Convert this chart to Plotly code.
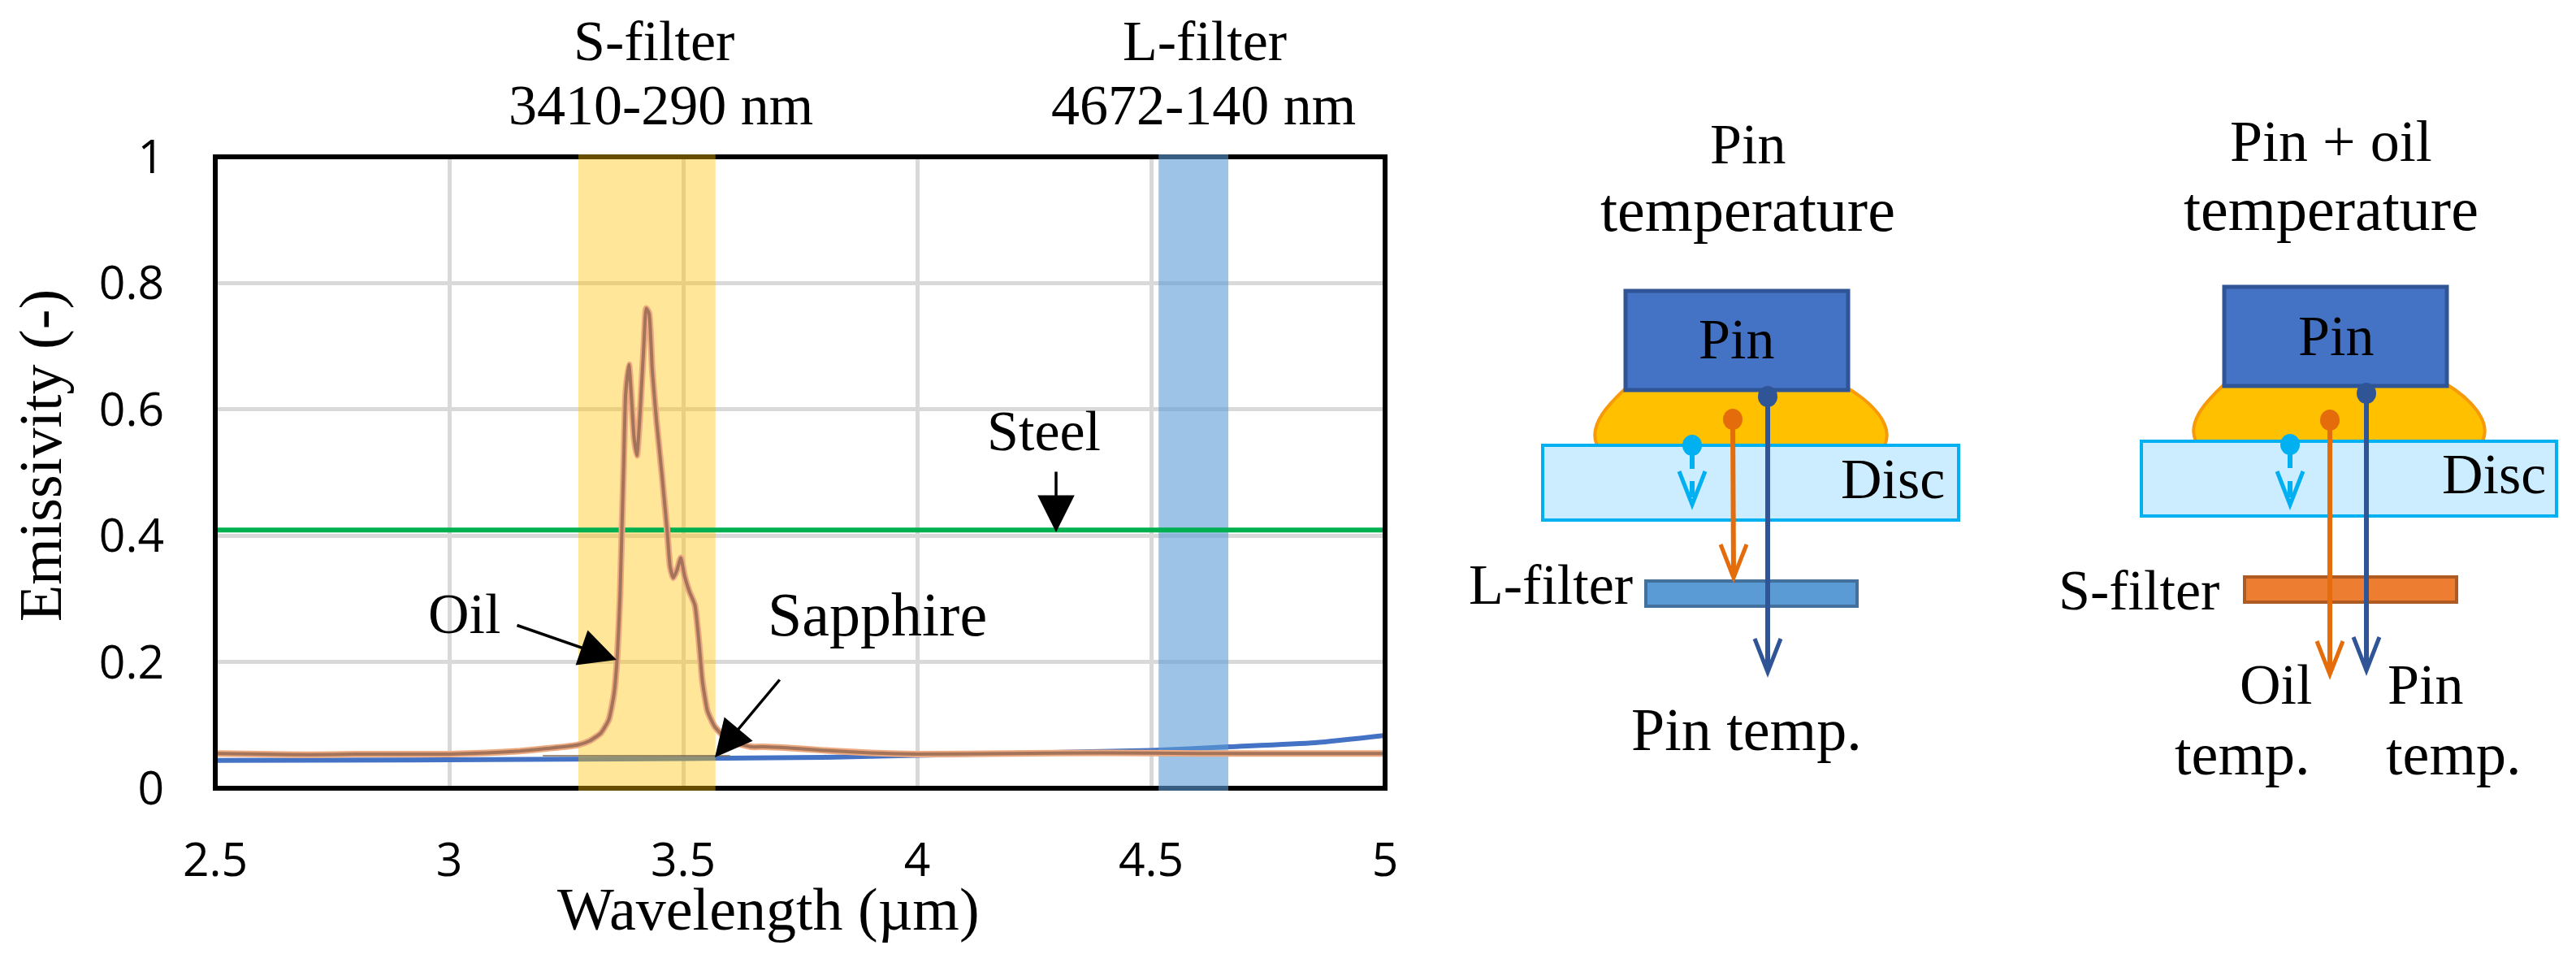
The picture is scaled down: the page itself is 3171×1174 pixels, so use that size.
import plotly.graph_objects as go

W, H = 3171, 1174
SERIF = "Liberation Serif"
SANS = "Open Sans"
TSIZE = 70

# ---- data ----
oil_x = [2.5, 2.6, 2.7, 2.8, 2.9, 3.0, 3.08, 3.151, 3.209, 3.274, 3.30, 3.324, 3.341, 3.352, 3.359, 3.365,
         3.369, 3.373, 3.377, 3.384, 3.389, 3.395, 3.401, 3.408, 3.416, 3.421, 3.427, 3.434, 3.443, 3.454,
         3.466, 3.472, 3.479, 3.487, 3.495, 3.503, 3.513, 3.525, 3.534, 3.541, 3.552, 3.567, 3.587, 3.616,
         3.645, 3.674, 3.72, 3.8, 3.9, 4.0, 4.2, 4.4, 4.6, 4.8, 5.0]
oil_y = [0.055, 0.054, 0.053, 0.054, 0.054, 0.054, 0.056, 0.059, 0.063, 0.0685, 0.075, 0.0873, 0.1086, 0.1486,
         0.207, 0.304, 0.41, 0.517, 0.624, 0.671, 0.624, 0.555, 0.527, 0.597, 0.704, 0.76, 0.752, 0.661, 0.581,
         0.501, 0.405, 0.351, 0.333, 0.346, 0.365, 0.336, 0.312, 0.29, 0.229, 0.17, 0.122, 0.098, 0.082, 0.071,
         0.0656, 0.0656, 0.064, 0.06, 0.056, 0.054, 0.055, 0.056, 0.055, 0.055, 0.055]
sapphire_x = [2.5, 3.0, 3.5, 3.8, 4.0, 4.25, 4.5, 4.665, 4.85, 5.005]
sapphire_y = [0.044, 0.045, 0.047, 0.049, 0.052, 0.056, 0.060, 0.0655, 0.072, 0.084]
steel_x = [2.49, 5.0]
steel_y = [0.409, 0.409]
thin_x = [3.2, 3.6]
thin_y = [0.0515, 0.0515]
s_band = [3.276, 3.569]
l_band = [4.516, 4.665]
x_ticks = [2.5, 3, 3.5, 4, 4.5, 5]
x_labels = ["2.5", "3", "3.5", "4", "4.5", "5"]
y_ticks = [0, 0.2, 0.4, 0.6, 0.8, 1]
y_labels = ["0", "0.2", "0.4", "0.6", "0.8", "1"]

L, R, T, B = 265, 1705, 193, 970
S_COL = "rgba(255,192,0,0.4)"
L_COL = "rgba(91,155,213,0.6)"


def px(x):
    return x / W


def py(y):
    return 1 - y / H


fig = go.Figure()
fig.add_trace(go.Scatter(x=sapphire_x, y=sapphire_y, mode="lines", name="Sapphire", cliponaxis=False,
                         line=dict(color="#4472C4", width=6, shape="spline", smoothing=0.6)))
for band, col, name in ((s_band, S_COL, "S-filter"), (l_band, L_COL, "L-filter")):
    fig.add_trace(go.Scatter(x=[band[0], band[0], band[1], band[1], band[0]], y=[0, 1, 1, 0, 0], mode="none",
                             fill="toself", fillcolor=col, name=name))
fig.add_trace(go.Scatter(x=steel_x, y=steel_y, mode="lines", name="Steel", cliponaxis=False,
                         line=dict(color="#00B050", width=6)))
fig.add_trace(go.Scatter(x=thin_x, y=thin_y, mode="lines", name="Sapphire (thin)",
                         line=dict(color="#7F6A50", width=1.5)))
fig.add_trace(go.Scatter(x=oil_x, y=oil_y, mode="lines", name="Oil halo",
                         line=dict(color="#EDA97F", width=8, shape="spline", smoothing=0.5)))
fig.add_trace(go.Scatter(x=oil_x, y=oil_y, mode="lines", name="Oil",
                         line=dict(color="#A3745A", width=4, shape="spline", smoothing=0.5)))

shapes = []


def rect(x0, y0, x1, y1, fill, line, lw):
    shapes.append(dict(type="rect", xref="paper", yref="paper", x0=px(x0), x1=px(x1), y0=py(y0), y1=py(y1),
                       fillcolor=fill, line=dict(color=line, width=lw), layer="above"))


def seg(x0, y0, x1, y1, col, lw, dash="solid"):
    shapes.append(dict(type="line", xref="paper", yref="paper", x0=px(x0), x1=px(x1), y0=py(y0), y1=py(y1),
                       line=dict(color=col, width=lw, dash=dash), layer="above"))


def dot(x, y, col, rx=12, ry=13):
    shapes.append(dict(type="circle", xref="paper", yref="paper", x0=px(x - rx), x1=px(x + rx),
                       y0=py(y - ry), y1=py(y + ry), fillcolor=col, line=dict(width=0), layer="above"))


def blob(x0, x1, xa, xb, y0, y1):
    # oil drop between the pin and the disc
    def p(a, b):
        return f"{px(a):.5f} {py(b):.5f}"
    d = (f"M {p(xa, y0 + 6)} C {p(x0 + 22, y0 + 22)} {p(x0 - 8, y0 + 50)} {p(x0 + 4, y1)} "
         f"L {p(x1 - 4, y1)} C {p(x1 + 8, y0 + 50)} {p(x1 - 22, y0 + 22)} {p(xb, y0 + 6)} Z")
    shapes.append(dict(type="path", xref="paper", yref="paper", path=d, fillcolor="#FFC000",
                       line=dict(color="#F79A09", width=4), layer="above"))


def chevron(x, ytip, col, lw=5, hw=16, hh=41):
    d = (f"M {px(x - hw):.5f} {py(ytip - hh):.5f} L {px(x):.5f} {py(ytip):.5f} "
         f"L {px(x + hw):.5f} {py(ytip - hh):.5f}")
    shapes.append(dict(type="path", xref="paper", yref="paper", path=d,
                       line=dict(color=col, width=lw), layer="above"))


# plot frame; the filter bands tint the frame where they cross it
rect(L, T, R, B, "rgba(0,0,0,0)", "#000000", 6)
for band, col in ((s_band, S_COL), (l_band, L_COL)):
    for yc in (T, B):
        shapes.append(dict(type="rect", xref="x", yref="paper", x0=band[0], x1=band[1],
                           y0=py(yc + 3), y1=py(yc - 3), fillcolor=col, line=dict(width=0), layer="above"))

BLUE, DBLUE, CY, OR = "#4472C4", "#2F5597", "#00B0F0", "#E46C0A"
# left diagram
blob(1962, 2324, 2001, 2275, 472, 548)
rect(1899, 548, 2411, 640, "#CCECFF", CY, 4)
rect(2001, 358, 2275, 480, BLUE, DBLUE, 5)
rect(2026, 715, 2286, 746, "#5B9BD5", "#41719C", 4)
dot(2083, 548, CY)
seg(2083, 548, 2083, 577, CY, 6)
seg(2083, 592, 2083, 612, CY, 6)
chevron(2083, 621, CY)
dot(2133, 516, OR)
seg(2133, 516, 2134, 708, OR, 6)
chevron(2134, 711, OR)
dot(2176, 488, DBLUE)
seg(2176, 488, 2176, 824, DBLUE, 6)
chevron(2176, 827, DBLUE)
# right diagram
blob(2699, 3060, 2738, 3012, 467, 543)
rect(2636, 543, 3147, 635, "#CCECFF", CY, 4)
rect(2738, 353, 3012, 475, BLUE, DBLUE, 5)
rect(2763, 710, 3024, 741, "#ED7D31", "#AE5A21", 4)
dot(2819, 547, CY)
seg(2819, 547, 2819, 576, CY, 6)
seg(2819, 592, 2819, 612, CY, 6)
chevron(2819, 621, CY)
dot(2868, 517, OR)
seg(2868, 517, 2868, 827, OR, 6)
chevron(2868, 830, OR)
dot(2913, 484, DBLUE)
seg(2913, 484, 2913, 822, DBLUE, 6)
chevron(2913, 825, DBLUE)

annots = []


def txt(s, x, y, size=TSIZE, angle=0):
    annots.append(dict(text=s, xref="paper", yref="paper", x=px(x), y=py(y), xanchor="center", yanchor="middle",
                       showarrow=False, textangle=angle, font=dict(family=SERIF, size=size, color="#000000")))


def arrow(x0, y0, x1, y1, size=2.6):
    annots.append(dict(text="", xref="paper", yref="paper", x=px(x1), y=py(y1), axref="pixel", ayref="pixel",
                       ax=x0 - x1, ay=y0 - y1, showarrow=True, arrowhead=2, arrowsize=size, arrowwidth=3.5,
                       arrowcolor="#000000"))


for s, x, y, size in [
    ("S-filter", 805, 51, 70), ("3410-290 nm", 813, 129, 70), ("L-filter", 1483, 51, 70),
    ("4672-140 nm", 1481, 129, 70),
    ("Oil", 571, 755, 70), ("Sapphire", 1080, 756, 76), ("Steel", 1285, 530, 70),
    ("Wavelength (µm)", 946, 1119, 74),
    ("Pin", 2151, 177, 70), ("temperature", 2151, 258, 76), ("Pin", 2137, 418, 70), ("Disc", 2330, 589, 70),
    ("L-filter", 1909, 719, 70), ("Pin temp.", 2150, 898, 74),
    ("Pin + oil", 2869, 174, 72), ("temperature", 2869, 257, 76), ("Pin", 2875, 413, 70), ("Disc", 3070, 583, 70),
    ("S-filter", 2633, 726, 70), ("Oil", 2801, 843, 70), ("temp.", 2760, 928, 74), ("Pin", 2985, 843, 70),
    ("temp.", 3020, 928, 74),
]:
    txt(s, x, y, size)
txt("Emissivity (-)", 50, 561, size=74, angle=-90)
arrow(635, 769, 759, 812)
arrow(1300, 579, 1300, 655)
arrow(961, 835, 880, 932)

fig.update_layout(
    width=W, height=H, margin=dict(l=0, r=0, t=0, b=0, autoexpand=False), autosize=False,
    paper_bgcolor="#FFFFFF", plot_bgcolor="#FFFFFF", showlegend=False,
    shapes=shapes, annotations=annots,
    xaxis=dict(domain=[px(L), px(R)], range=[2.5, 5], tickmode="array", tickvals=x_ticks, ticktext=x_labels,
               showgrid=True, gridcolor="#D9D9D9", gridwidth=5, zeroline=False, showline=False, ticks="",
               automargin=False, ticklabelstandoff=50, tickfont=dict(family=SANS, size=57, color="#000000")),
    yaxis=dict(domain=[py(B), py(T)], range=[0, 1], tickmode="array", tickvals=y_ticks, ticktext=y_labels,
               showgrid=True, gridcolor="#D9D9D9", gridwidth=5, zeroline=False, showline=False, ticks="",
               automargin=False, ticklabelstandoff=62, tickfont=dict(family=SANS, size=57, color="#000000")),
)
fig.write_html("out.html", config=dict(displayModeBar=False),
               post_script="document.body.style.margin='0';document.body.style.overflow='hidden';")
